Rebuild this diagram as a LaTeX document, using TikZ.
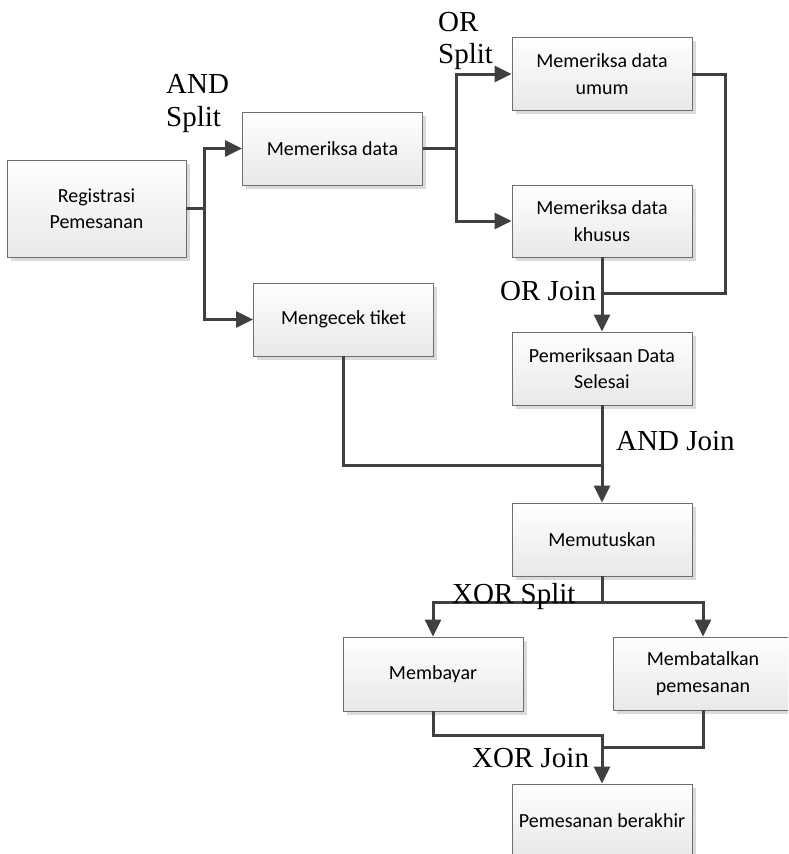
\documentclass[tikz,border=0pt]{standalone}
\usepackage{fontspec}
\setmainfont{Liberation Serif}
\newfontfamily\boxfont{Carlito}
\usetikzlibrary{arrows.meta,shadows}
\definecolor{lncol}{HTML}{404040}
\definecolor{bdcol}{HTML}{6E6E6E}
\definecolor{botcol}{HTML}{E8E8E8}
\definecolor{shcol}{HTML}{DADADA}
\begin{document}
\begin{tikzpicture}[x=1pt,y=-1pt,
  proc/.style={draw=bdcol, line width=0.9pt, top color=white, bottom color=botcol,
    minimum width=180pt, minimum height=73pt, inner sep=2pt, align=center,
    font=\boxfont\fontsize{20}{26.5}\selectfont,
    drop shadow={shadow xshift=3.5pt, shadow yshift=-3.5pt, fill=shcol, opacity=1}},
  conn/.style={draw=lncol, line width=3pt},
  arr/.style={conn, -{Triangle[length=17pt,width=16pt]}},
  lbl/.style={anchor=base west, inner sep=0pt, font=\fontsize{29}{32}\selectfont}]
\clip (0,0) rectangle (788,854);
\fill[white] (0,0) rectangle (788,854);
% boxes
\node[proc, minimum width=179pt, minimum height=97pt] (reg) at (96.5,208.5) {Registrasi\\Pemesanan};
\node[proc] (md) at (332.5,148.5) {Memeriksa data};
\node[proc] (umum) at (602,74) {Memeriksa data\\umum};
\node[proc, minimum height=72pt] (khusus) at (602,221) {Memeriksa data\\khusus};
\node[proc] (cek) at (343.5,319.5) {Mengecek tiket};
\node[proc] (selesai) at (602,368.5) {Pemeriksaan Data\\Selesai};
\node[proc] (putus) at (602,539.5) {Memutuskan};
\node[proc, minimum height=74pt] (bayar) at (433,674) {Membayar};
\node[proc] (batal) at (703,673.5) {Membatalkan\\pemesanan};
\node[proc] (akhir) at (602,820.5) {Pemesanan berakhir};
% junction points
\coordinate (s1) at (204,208.5);
\coordinate (s2) at (456,148.5);
\coordinate (j1c) at (725,293);
\coordinate (j1) at (602,293);
\coordinate (j2) at (602,465);
\coordinate (x1) at (602,602);
\coordinate (xj) at (602,735);
\coordinate (xj2) at (602,747);
% connectors
\draw[conn] (reg.east) -- (s1);
\draw[arr] (s1) |- (md.west);
\draw[arr] (s1) |- (cek.west);
\draw[conn] (md.east) -- (s2);
\draw[arr] (s2) |- (umum.west);
\draw[arr] (s2) |- (khusus.west);
\draw[conn] (umum.east) -| (j1c) -- (j1);
\draw[arr] (khusus.south) -- (selesai.north);
\draw[conn] (cek.south) |- (j2);
\draw[arr] (selesai.south) -- (putus.north);
\draw[conn] (putus.south) -- (x1);
\draw[arr] (x1) -| (bayar.north);
\draw[arr] (x1) -| (batal.north);
\draw[conn] (batal.south) |- (xj2);
\draw[arr] (bayar.south) |- (xj) -- (akhir.north);
% labels
\node[lbl] (l1) at (166,93) {AND};
\node[lbl] (l2) at (166,126) {Split};
\node[lbl] (l3) at (438,31) {OR};
\node[lbl] (l4) at (438,63) {Split};
\node[lbl] (l5) at (500,300) {OR Join};
\node[lbl] (l6) at (616,450) {AND Join};
\node[lbl] (l7) at (452,603) {XOR Split};
\node[lbl] (l8) at (472,767) {XOR Join};
\end{tikzpicture}
\end{document}
